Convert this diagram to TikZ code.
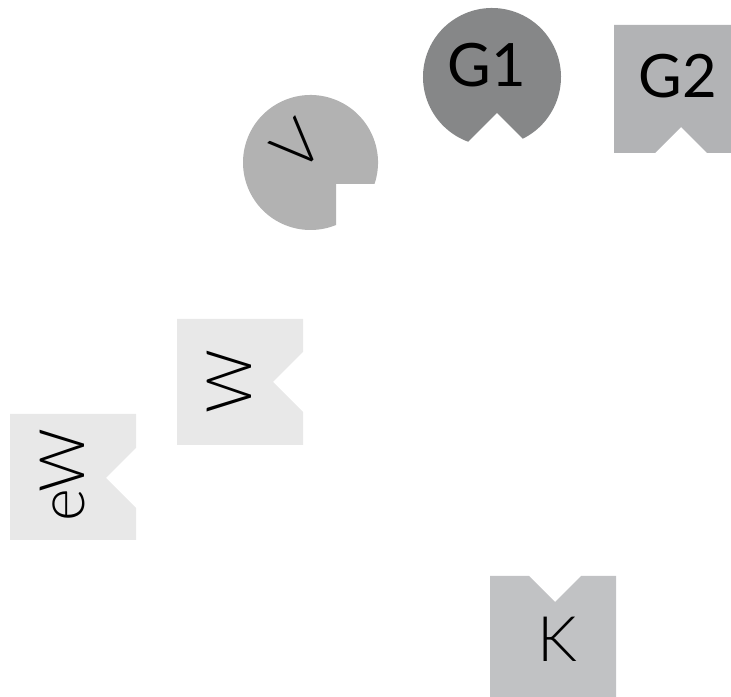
\documentclass[tikz,border=0pt]{standalone}
\usepackage{fontspec}
\setmainfont{Lato}
\newfontfamily\thinfont{Lato Light}
\definecolor{vgray}{HTML}{B2B2B2}
\definecolor{gonegray}{HTML}{868788}
\definecolor{gtwogray}{HTML}{B2B3B5}
\definecolor{wgray}{HTML}{E8E8E8}
\definecolor{kgray}{HTML}{C1C2C4}
\tikzset{
  lbl/.style={inner sep=0pt, text=black, font=\thinfont\fontsize{63}{66}\selectfont},
  glbl/.style={inner sep=0pt, text=black, font=\fontsize{60}{64}\selectfont}
}
\begin{document}
\begin{tikzpicture}[x=1bp,y=1bp]
\useasboundingbox (0,0) rectangle (731,697);
\clip (0,0) rectangle (731,697);
% V circle with square notch
\fill[vgray] (374.5,513) arc[start angle=-18.57, end angle=292.2, radius=67.5bp] -- (336,513) -- cycle;
% G1 circle with V notch
\fill[gonegray] (522.76,558.24) arc[start angle=-63.52, end angle=249.84, radius=69bp] -- (497,584) -- cycle;
% G2 box
\fill[gtwogray] (614,672) -- (740,672) -- (740,544) -- (707,544) -- (681,570) -- (655,544) -- (614,544) -- cycle;
% W box
\fill[wgray] (177,378) -- (303,378) -- (303,345) -- (273,315) -- (303,285) -- (303,252) -- (177,252) -- cycle;
% eW box
\fill[wgray] (10,283) -- (136,283) -- (136,249) -- (106,219) -- (136,189) -- (136,157) -- (10,157) -- cycle;
% K box
\fill[kgray] (490,121) -- (529,121) -- (555,95) -- (581,121) -- (616,121) -- (616,-10) -- (490,-10) -- cycle;
% labels
\node[glbl] (g1) at (487,632) {G1};
\node[glbl] (g2) at (678,621) {G2};
\node[lbl, rotate=45] (v) at (297,552) {V};
\node[lbl, rotate=90] (w) at (229,315) {W};
\node[lbl, rotate=90] (ew) at (62,222) {eW};
\node[lbl] (k) at (557,58) {K};
\end{tikzpicture}
\end{document}
